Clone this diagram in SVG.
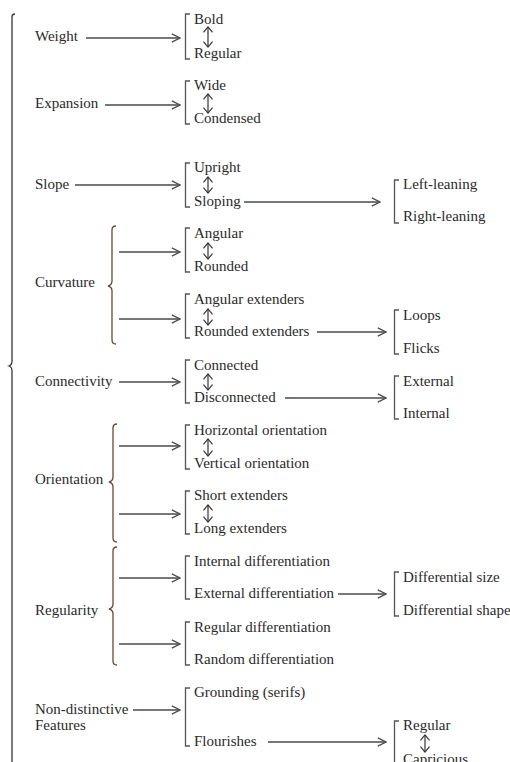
<svg xmlns="http://www.w3.org/2000/svg" width="510" height="762" viewBox="0 0 510 762">
  <defs>
    <marker id="ah" viewBox="0 0 10 10" refX="9.2" refY="5" markerWidth="10" markerHeight="10" markerUnits="userSpaceOnUse" orient="auto-start-reverse">
      <path d="M1,0.8 L9.2,5 L1,9.2" fill="none" stroke="#4a4a4a" stroke-width="1.3"/>
    </marker>
    <marker id="dh" viewBox="0 0 10 10" refX="9" refY="5" markerWidth="9" markerHeight="11" markerUnits="userSpaceOnUse" orient="auto-start-reverse">
      <path d="M3,0 L9,5 L3,10" fill="none" stroke="#333" stroke-width="1.3"/>
    </marker>
  </defs>
  <style>
    text { font-family: "Liberation Serif", "Times New Roman", serif; font-size: 15px; fill: #2a2a2a; }
    .arr { stroke: #4a4a4a; stroke-width: 1.3; fill: none; marker-end: url(#ah); }
    .dbl { stroke: #333; stroke-width: 1.2; fill: none; marker-start: url(#dh); marker-end: url(#dh); }
    .brk { stroke: #555; stroke-width: 1.3; fill: none; }
    .brace { stroke: #3a3434; stroke-width: 1.3; fill: none; }
    .sbrace { stroke: #6e4636; stroke-width: 1.3; fill: none; }
  </style>

  <!-- outer brace spanning all features -->
  <g id="root">
    <path class="brace" d="M15,14 Q12,14 12,17 L12,361 Q12,365 9,366 Q12,367 12,371 L12,770"/>
  </g>

  <!-- connectors -->
  <g id="connectors">
    <line class="arr" x1="86" y1="38" x2="180" y2="38"/>
    <line class="arr" x1="105" y1="105" x2="180" y2="105"/>
    <line class="arr" x1="75" y1="185" x2="180" y2="185"/>
    <line class="arr" x1="244" y1="202" x2="380" y2="202"/>
    <line class="arr" x1="119" y1="252" x2="180" y2="252"/>
    <line class="arr" x1="119" y1="319" x2="180" y2="319"/>
    <line class="arr" x1="317" y1="332" x2="386" y2="332"/>
    <line class="arr" x1="119" y1="382" x2="180" y2="382"/>
    <line class="arr" x1="285" y1="398" x2="386" y2="398"/>
    <line class="arr" x1="119" y1="446" x2="180" y2="446"/>
    <line class="arr" x1="119" y1="514" x2="180" y2="514"/>
    <line class="arr" x1="119" y1="578" x2="180" y2="578"/>
    <line class="arr" x1="338" y1="594" x2="386" y2="594"/>
    <line class="arr" x1="119" y1="644" x2="180" y2="644"/>
    <line class="arr" x1="133" y1="710" x2="180" y2="710"/>
    <line class="arr" x1="268" y1="742" x2="386" y2="742"/>
  </g>

  <g id="weight">
    <text x="35" y="41">Weight</text>
    <path class="brk" d="M190,14 L185.5,14 L185.5,59 L190,59"/>
    <text x="194" y="24">Bold</text>
    <line class="dbl" x1="208" y1="27" x2="208" y2="47"/>
    <text x="194" y="58">Regular</text>
  </g>

  <g id="expansion">
    <text x="35" y="108">Expansion</text>
    <path class="brk" d="M190,81 L185.5,81 L185.5,124 L190,124"/>
    <text x="194" y="90">Wide</text>
    <line class="dbl" x1="208" y1="94" x2="208" y2="113"/>
    <text x="194" y="123">Condensed</text>
  </g>

  <g id="slope">
    <text x="35" y="189">Slope</text>
    <path class="brk" d="M190,163 L185.5,163 L185.5,207 L190,207"/>
    <text x="194" y="172">Upright</text>
    <line class="dbl" x1="208" y1="177" x2="208" y2="193"/>
    <text x="194" y="206">Sloping</text>
    <path class="brk" d="M399,180 L394.5,180 L394.5,223 L399,223"/>
    <text x="403" y="189">Left-leaning</text>
    <text x="403" y="221">Right-leaning</text>
  </g>

  <g id="curvature">
    <text x="35" y="287">Curvature</text>
    <path class="sbrace" d="M116,226 Q112,226 112,230 L112,281 Q112,285 108,286 Q112,287 112,291 L112,340 Q112,344 116,344"/>
    <path class="brk" d="M190,228 L185.5,228 L185.5,272 L190,272"/>
    <text x="194" y="238">Angular</text>
    <line class="dbl" x1="208" y1="243" x2="208" y2="259"/>
    <text x="194" y="271">Rounded</text>
    <path class="brk" d="M190,294 L185.5,294 L185.5,338 L190,338"/>
    <text x="194" y="304">Angular extenders</text>
    <line class="dbl" x1="208" y1="309" x2="208" y2="325"/>
    <text x="194" y="336">Rounded extenders</text>
    <path class="brk" d="M399,310 L394.5,310 L394.5,354 L399,354"/>
    <text x="403" y="320">Loops</text>
    <text x="403" y="353">Flicks</text>
  </g>

  <g id="connectivity">
    <text x="35" y="386">Connectivity</text>
    <path class="brk" d="M190,360 L185.5,360 L185.5,403 L190,403"/>
    <text x="194" y="370">Connected</text>
    <line class="dbl" x1="208" y1="374" x2="208" y2="390"/>
    <text x="194" y="402">Disconnected</text>
    <path class="brk" d="M399,376 L394.5,376 L394.5,419 L399,419"/>
    <text x="403" y="386">External</text>
    <text x="403" y="418">Internal</text>
  </g>

  <g id="orientation">
    <text x="35" y="484">Orientation</text>
    <path class="sbrace" d="M117,424 Q113,424 113,428 L113,477 Q113,481 109,482 Q113,483 113,487 L113,538 Q113,542 117,542"/>
    <path class="brk" d="M190,425 L185.5,425 L185.5,469 L190,469"/>
    <text x="194" y="435">Horizontal orientation</text>
    <line class="dbl" x1="208" y1="439" x2="208" y2="456"/>
    <text x="194" y="468">Vertical orientation</text>
    <path class="brk" d="M190,491 L185.5,491 L185.5,534 L190,534"/>
    <text x="194" y="500">Short extenders</text>
    <line class="dbl" x1="208" y1="505" x2="208" y2="522"/>
    <text x="194" y="533">Long extenders</text>
  </g>

  <g id="regularity">
    <text x="35" y="615">Regularity</text>
    <path class="sbrace" d="M117,547 Q113,547 113,551 L113,604 Q113,608 109,609 Q113,610 113,614 L113,661 Q113,665 117,665"/>
    <path class="brk" d="M190,556 L185.5,556 L185.5,599 L190,599"/>
    <text x="194" y="566">Internal differentiation</text>
    <text x="194" y="598">External differentiation</text>
    <path class="brk" d="M399,572 L394.5,572 L394.5,616 L399,616"/>
    <text x="403" y="582">Differential size</text>
    <text x="403" y="615">Differential shape</text>
    <path class="brk" d="M190,622 L185.5,622 L185.5,665 L190,665"/>
    <text x="194" y="632">Regular differentiation</text>
    <text x="194" y="664">Random differentiation</text>
  </g>

  <g id="non-distinctive">
    <text x="35" y="714">Non-distinctive</text>
    <text x="35" y="730">Features</text>
    <path class="brk" d="M190,688 L185.5,688 L185.5,746 L190,746"/>
    <text x="194" y="697">Grounding (serifs)</text>
    <text x="194" y="746">Flourishes</text>
    <path class="brk" d="M399,721 L394.5,721 L394.5,770"/>
    <text x="403" y="730">Regular</text>
    <line class="dbl" x1="425" y1="735" x2="425" y2="752"/>
    <text x="403" y="764">Capricious</text>
  </g>
</svg>
